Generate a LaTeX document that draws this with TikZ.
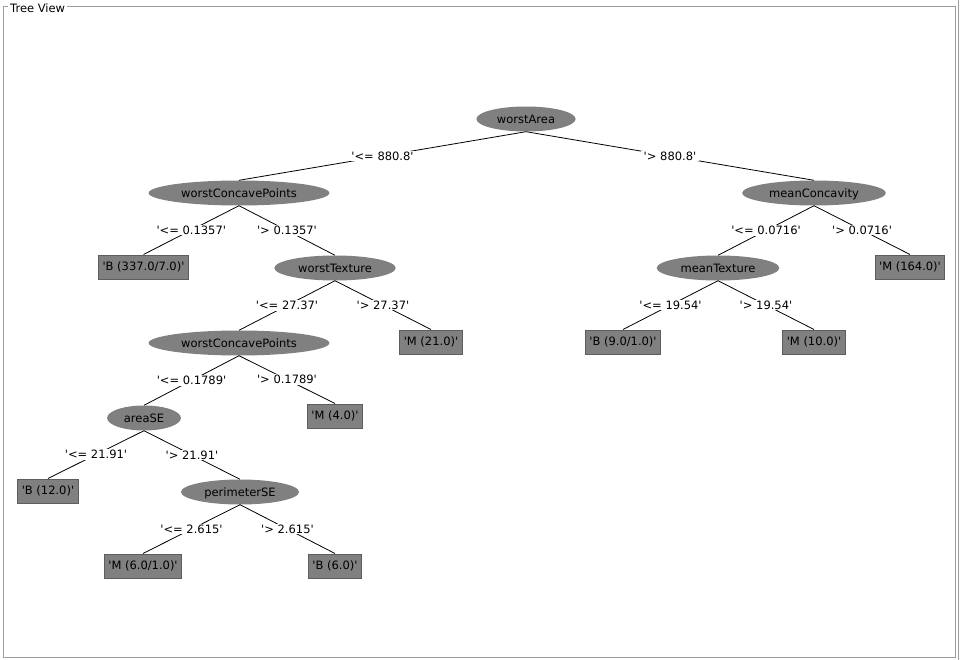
\documentclass[tikz,border=0pt]{standalone}
\usepackage{fontspec}
\newfontfamily\treefont{DejaVu Sans}
\usepackage{tikz}
\usetikzlibrary{shapes.geometric}
\definecolor{nodegray}  {HTML}{808080}
\definecolor{boxedge}   {HTML}{5E5E5E}
\definecolor{framegray} {HTML}{9E9E9E}
\tikzset{
  splitnode/.style={
    ellipse, fill=nodegray, inner xsep=6pt, inner ysep=1pt,
    minimum height=25pt, text depth=0pt,
    font=\treefont\fontsize{11.5}{13}\selectfont
  },
  leafbox/.style={
    rectangle, fill=nodegray, draw=boxedge, line width=1pt,
    inner xsep=4pt, minimum height=24pt, text depth=2pt,
    font=\treefont\fontsize{11.5}{13}\selectfont
  },
  edgelabel/.style={
    fill=white, inner xsep=3pt, inner ysep=1pt,
    font=\treefont\fontsize{11.5}{13}\selectfont
  },
  branch/.style={draw=black, line width=0.8pt}
}

\begin{document}
\begin{tikzpicture}[x=1pt, y=-1pt]
  \useasboundingbox (0,0) rectangle (960,660);

  % frame
  \draw[framegray, line width=1pt] (3.5,7) rectangle (955,657);
  \draw[framegray, line width=1pt] (958,0) -- (958,660);
  \node[fill=white, anchor=west, inner xsep=2pt, inner ysep=1pt,
        font=\treefont\fontsize{11.5}{13}\selectfont] (title) at (8,8) {Tree View};

  % split nodes
  \node[splitnode] (root)  at (526,119) {worstArea};
  \node[splitnode] (wcpA)  at (239,193) {worstConcavePoints};
  \node[splitnode] (mconc) at (814,193) {meanConcavity};
  \node[splitnode] (wtex)  at (335,268) {worstTexture};
  \node[splitnode] (mtex)  at (718,268) {meanTexture};
  \node[splitnode] (wcpB)  at (239,343) {worstConcavePoints};
  \node[splitnode] (area)  at (144,418) {areaSE};
  \node[splitnode] (perim) at (240,492) {perimeterSE};

  % leaves
  \node[leafbox] (lB337) at (143.5,267) {'B (337.0/7.0)'};
  \node[leafbox] (lM164) at (910,267)   {'M (164.0)'};
  \node[leafbox] (lM21)  at (431,342)   {'M (21.0)'};
  \node[leafbox] (lB9)   at (623,342)   {'B (9.0/1.0)'};
  \node[leafbox] (lM10)  at (814,342)   {'M (10.0)'};
  \node[leafbox] (lM4)   at (335,416)   {'M (4.0)'};
  \node[leafbox] (lB12)  at (48,491)    {'B (12.0)'};
  \node[leafbox] (lM6)   at (143,566)   {'M (6.0/1.0)'};
  \node[leafbox] (lB6)   at (335,566)   {'B (6.0)'};

  % branches with their tests
  \foreach \a/\b/\t in {root/wcpA/{'<= 880.8'}, root/mconc/{'> 880.8'},
                        wcpA/lB337/{'<= 0.1357'}, wcpA/wtex/{'> 0.1357'},
                        wtex/wcpB/{'<= 27.37'}, wtex/lM21/{'> 27.37'},
                        wcpB/area/{'<= 0.1789'}, wcpB/lM4/{'> 0.1789'},
                        area/lB12/{'<= 21.91'}, area/perim/{'> 21.91'},
                        perim/lM6/{'<= 2.615'}, perim/lB6/{'> 2.615'},
                        mconc/mtex/{'<= 0.0716'}, mconc/lM164/{'> 0.0716'},
                        mtex/lB9/{'<= 19.54'}, mtex/lM10/{'> 19.54'}}{
    \draw[branch] (\a.south) -- (\b.north) node[edgelabel, midway] {\t};
  }
\end{tikzpicture}
\end{document}
